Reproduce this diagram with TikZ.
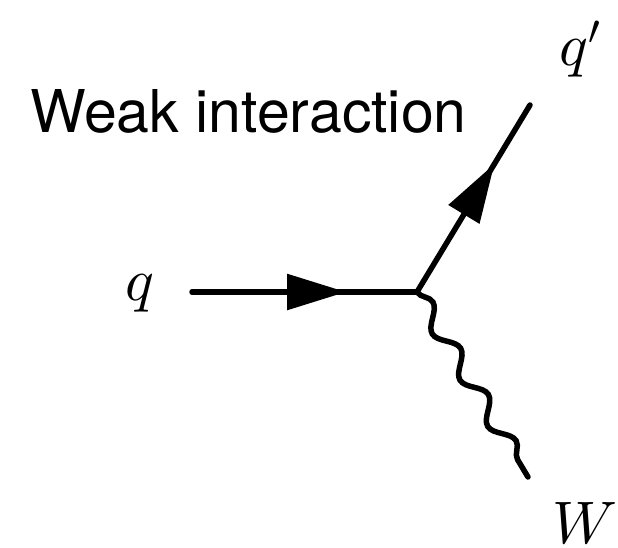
\documentclass[tikz,border=0pt]{standalone}
\usepackage{fontspec}
\newfontfamily\heros{TeX Gyre Heros}
\DeclareFontShape{OML}{cmm}{m}{it}{<->cmmi10}{}
\DeclareFontShape{OMS}{cmsy}{m}{n}{<->cmsy10}{}
\usetikzlibrary{decorations.markings,decorations.pathmorphing,arrows.meta}
\tikzset{
  fermion/.style={line width=5.5pt,line cap=round,
    postaction={decorate},
    decoration={markings,mark=at position 0.685 with {\arrow{Triangle[length=59pt,width=35pt]}}}},
  boson/.style={line width=5.5pt,line cap=round,decorate,
    decoration={snake,segment length=53.9pt,amplitude=8.5pt}},
  lbl/.style={inner sep=0pt,anchor=base,font=\fontsize{60}{72}\selectfont},
  title/.style={inner sep=0pt,anchor=base west,font=\heros\fontsize{59}{70}\selectfont}
}
\begin{document}
\begin{tikzpicture}[x=1pt,y=1pt]
\useasboundingbox (0,0) rectangle (618,547);
\coordinate (V) at (417,255);
\coordinate (A) at (192,255);
\coordinate (B) at (530,442);
\coordinate (C) at (528,70);
\draw[fermion] (A) -- (V);
\draw[fermion] (V) -- (B);
\draw[boson] (V) -- (C);
\node[lbl] (q) at (140,247) {$q$};
\node[lbl] (qp) at (580,481) {$q'$};
\node[lbl] (w) at (585,4) {$W$};
\node[title] (t) at (30,414) {Weak interaction};
\end{tikzpicture}
\end{document}
